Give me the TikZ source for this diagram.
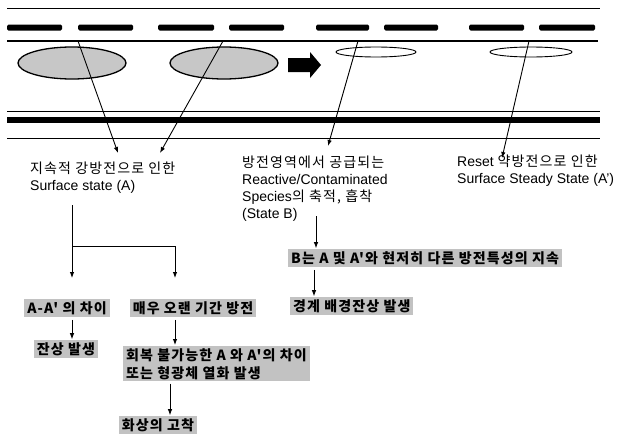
\documentclass[tikz,border=0pt]{standalone}
\usepackage{fontspec}
\setmainfont{Liberation Sans}
\newfontfamily\kr[LetterSpace=8]{Noto Sans CJK KR}
\usetikzlibrary{arrows.meta}
\tikzset{
  rule/.style={line width=0.8pt},
  dashbar/.style={fill=black, rounded corners=1.5pt},
  grayell/.style={draw, line width=1.3pt, fill=black!22},
  whiteell/.style={draw, line width=0.9pt},
  leader/.style={line width=0.9pt, -{Latex[length=6pt,width=4.5pt]}},
  arr/.style={line width=0.9pt, -{Latex[length=6pt,width=4.5pt]}},
  grbox/.style={fill=black!24, font=\kr\bfseries\fontsize{14}{18}\selectfont, inner xsep=3pt, inner ysep=2pt, align=left},
  txt/.style={align=left, anchor=north west, inner sep=0pt, font=\fontsize{14}{17}\selectfont}
}
\begin{document}
\begin{tikzpicture}[x=1pt,y=-1pt]
\useasboundingbox (0,0) rectangle (627,439);
% horizontal structure
\draw[rule] (7,8) -- (600,8);
\foreach \a/\b in {7/62,78/133,158/214,229/284,316/369,384/438,469/524,539/595}
  \fill[dashbar] (\a,24.5) rectangle (\b,30.5);
\draw[line width=1.2pt] (7,41) -- (598,41);
\draw[rule] (7,111) -- (600,111);
\fill (7,117) rectangle (600,123);
\draw[rule] (7,138) -- (600,138);
% ellipses
\draw[grayell] (72,63) ellipse [x radius=54, y radius=16];
\draw[grayell] (224,63) ellipse [x radius=54, y radius=16];
\draw[whiteell] (376,52) ellipse [x radius=40, y radius=5];
\draw[whiteell] (531,52) ellipse [x radius=41, y radius=5];
% block arrow
\fill (288,58) -- (310,58) -- (310,52) -- (321,65) -- (310,78) -- (310,72) -- (288,72) -- cycle;
% leader lines
\coordinate (l1) at (78,41);  \coordinate (t1) at (118,153);
\coordinate (l2) at (223,41); \coordinate (t2) at (160,153);
\coordinate (l3) at (358,41); \coordinate (t3) at (328,146);
\coordinate (l4) at (529,41); \coordinate (t4) at (502,158);
\draw[leader] (l1) -- (t1);
\draw[leader] (l2) -- (t2);
\draw[leader] (l3) -- (t3);
\draw[leader] (l4) -- (t4);
% texts
\node[txt] (tA) at (30,162) {{\kr 지속적 강방전으로 인한}\\Surface state (A)};
\node[txt] (tB) at (242,156) {{\kr 방전영역에서 공급되는}\\Reactive/Contaminated\\Species{\kr 의 축적, 흡착}\\(State B)};
\node[txt] (tC) at (457,155) {Reset {\kr 약방전으로 인한}\\Surface Steady State (A')};
% gray boxes
\node[grbox] (AA) at (67,308) {A-A' 의 차이};
\node[grbox] (MW) at (193,308) {매우 오랜 기간 방전};
\node[grbox] (JS) at (66,349) {잔상 발생};
\node[grbox, anchor=north west] (HB) at (123,346) {회복 불가능한 A 와 A'의 차이\\또는 형광체 열화 발생};
\node[grbox] (HS) at (158,425) {화상의 고착};
\node[grbox, anchor=west] (BB) at (288,258) {B는 A 및 A'와 현저히 다른 방전특성의 지속};
\node[grbox, anchor=west] (KG) at (290,306) {경계 배경잔상 발생};
% connectors below text A
\coordinate (a0) at (72,205);
\coordinate (a1) at (72,246);
\coordinate (a2) at (175,246);
\coordinate (a3) at (72,278);
\coordinate (a4) at (175,278);
\draw[arr] (a0) -- (a3);
\draw[arr] (a1) -- (a2) -- (a4);
% box arrows
\coordinate (x72) at (72,0);
\coordinate (x175) at (175,0);
\coordinate (x170) at (170,0);
\coordinate (x316) at (316,0);
\coordinate (x314) at (314,0);
\draw[arr, shorten <=3pt, shorten >=1pt] (AA.south -| x72) -- (JS.north -| x72);
\draw[arr, shorten <=3pt, shorten >=1pt] (MW.south -| x175) -- (HB.north -| x175);
\draw[arr, shorten <=2pt, shorten >=1pt] (HB.south -| x170) -- (HS.north -| x170);
\coordinate (b0) at (316,216);
\draw[arr, shorten >=1pt] (b0) -- (BB.north -| x316);
\draw[arr, shorten <=3pt, shorten >=1pt] (BB.south -| x314) -- (KG.north -| x314);
\end{tikzpicture}
\end{document}
